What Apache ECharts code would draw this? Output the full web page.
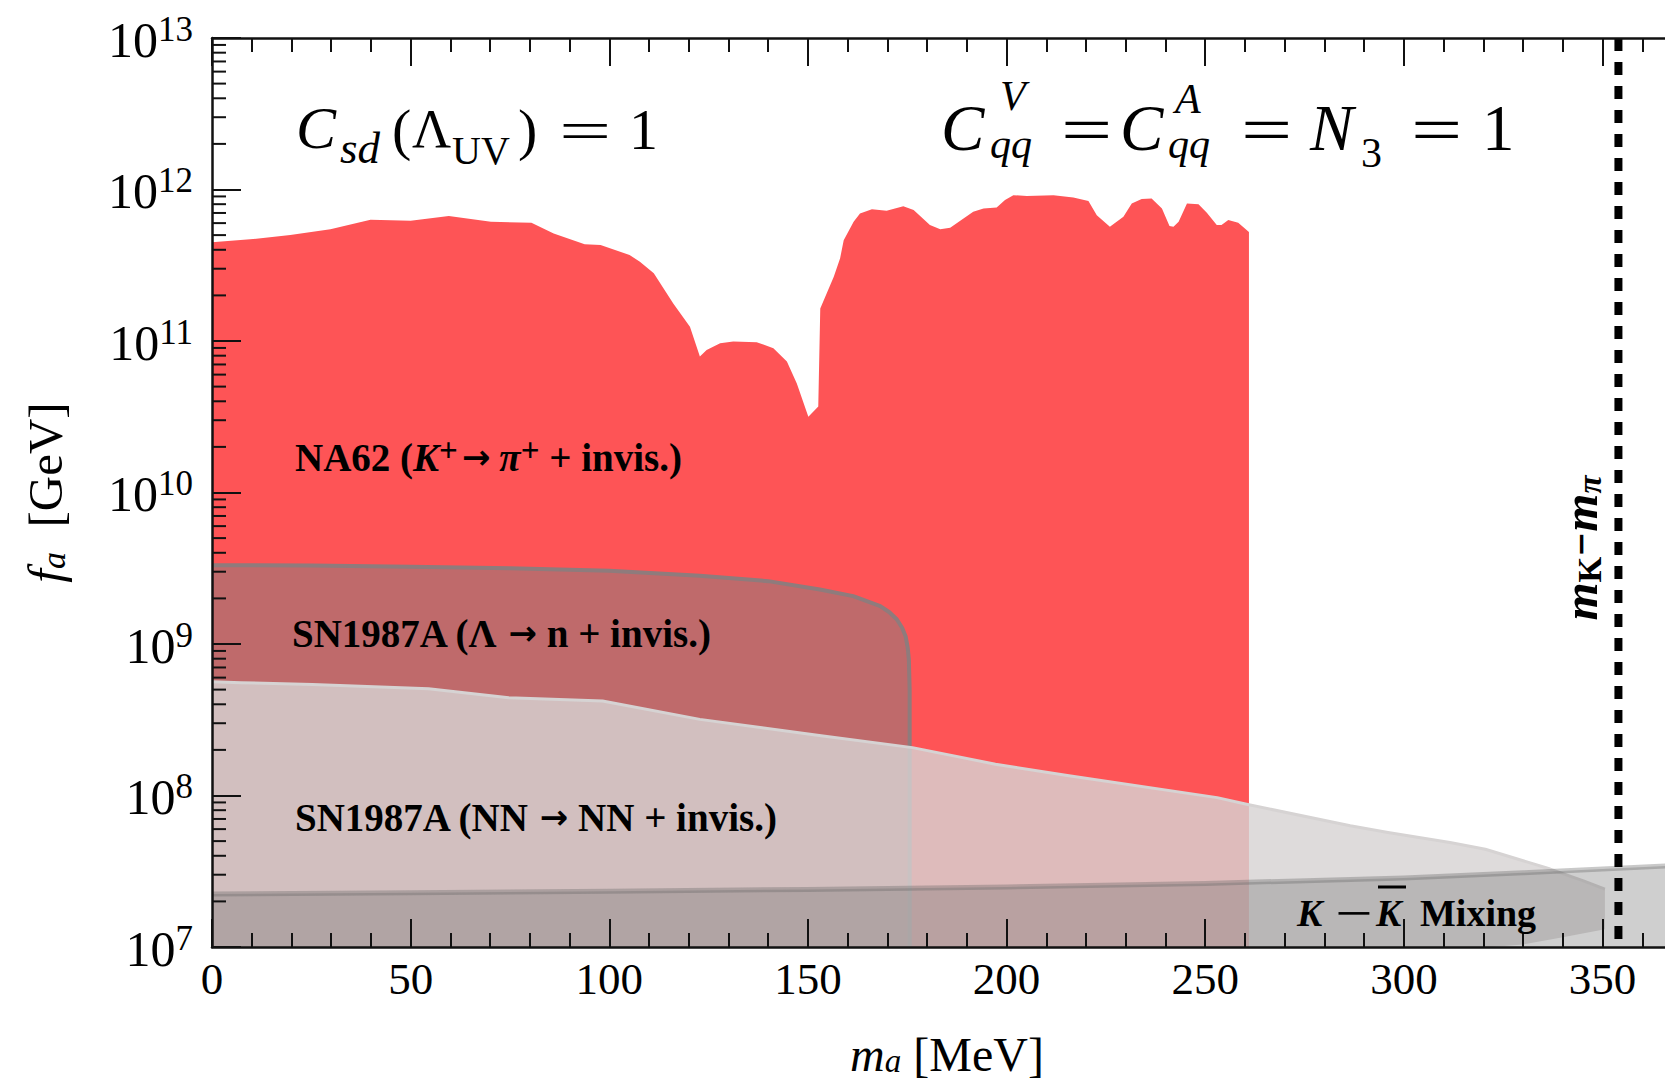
<!DOCTYPE html>
<html>
<head>
<meta charset="utf-8">
<script src="https://cdn.jsdelivr.net/npm/echarts@6/dist/echarts.min.js"></script>
<style>
  html, body { margin: 0; padding: 0; background: #fff; }
  #chart { width: 1665px; height: 1084px; }
</style>
</head>
<body>
<div id="chart"></div>
<script>
const FONT = '"Liberation Serif", "Times New Roman", Times, serif';
const ARROW_FONT = '"DejaVu Sans", sans-serif';

// axion mass m_a [MeV]
const xMin = 0, xMax = 370, xStep = 50;
// decay constant f_a [GeV], one tick label per decade
const yExponents = [7, 8, 9, 10, 11, 12, 13];

// NA62 (K+ -> pi+ + invisible): upper edge of the excluded region [m_a, f_a]
const na62Edge = [
  [0, 4.48e11], [9.6, 4.69e11], [19.7, 5.01e11], [29.8, 5.46e11], [39.9, 6.31e11],
  [50.0, 6.22e11], [59.6, 6.68e11], [70.2, 6.12e11], [80.4, 6.03e11], [86.0, 5.13e11],
  [93.8, 4.35e11], [97.8, 4.30e11], [105.1, 3.70e11], [107.7, 3.33e11], [111.2, 2.80e11],
  [116.1, 1.77e11], [120.3, 1.24e11], [122.8, 7.89e10], [124.5, 8.71e10], [127.9, 9.66e10],
  [131.2, 9.91e10], [137.1, 9.82e10], [141.3, 8.97e10], [144.7, 7.31e10], [147.2, 5.25e10],
  [150.1, 3.16e10], [152.6, 3.69e10], [153.1, 1.64e11], [156.5, 2.66e11], [158.1, 3.52e11],
  [159.0, 4.63e11], [161.5, 6.12e11], [163.1, 6.95e11], [166.1, 7.40e11], [169.8, 7.24e11],
  [174.0, 7.76e11], [176.6, 7.31e11], [180.7, 5.82e11], [183.3, 5.46e11], [185.8, 5.60e11],
  [191.6, 7.13e11], [194.2, 7.50e11], [197.5, 7.62e11], [199.6, 8.51e11], [201.7, 9.18e11],
  [205.1, 9.06e11], [211.8, 9.18e11], [216.8, 8.87e11], [220.6, 8.41e11], [222.7, 6.76e11],
  [226.0, 5.68e11], [229.4, 6.61e11], [231.5, 8.09e11], [234.0, 8.65e11], [236.5, 8.73e11],
  [239.1, 7.50e11], [241.0, 5.74e11], [242.0, 5.68e11], [243.3, 6.12e11], [245.4, 8.09e11],
  [248.3, 7.98e11], [250.4, 7.01e11], [252.9, 5.82e11], [254.1, 5.82e11], [255.8, 6.28e11],
  [258.3, 6.03e11], [261.0, 5.25e11]
];

// SN1987A (Lambda -> n + invisible): outline of the excluded region
const lambdaEdge = [
  [0, 3.31e9], [25, 3.30e9], [50, 3.24e9], [75, 3.16e9], [100, 3.05e9], [122.8, 2.82e9],
  [140, 2.60e9], [153, 2.29e9], [161.4, 2.07e9], [168.2, 1.78e9], [170.5, 1.62e9],
  [172.4, 1.45e9], [173.7, 1.28e9], [174.6, 1.12e9], [175.1, 9.5e8], [175.4, 7.9e8],
  [175.6, 5.0e8], [175.6, 1e7]
];

// SN1987A (NN -> NN + invisible): upper edge, then lower edge from right to left
const nnUpper = [
  [0, 5.64e8], [7.3, 5.55e8], [25.3, 5.41e8], [54.5, 5.07e8], [74.7, 4.42e8], [98.3, 4.20e8],
  [122.8, 3.18e8], [153.8, 2.47e8], [176.3, 2.07e8], [197.2, 1.61e8], [215.7, 1.35e8],
  [253, 9.68e7], [260.4, 8.75e7], [286.5, 6.31e7], [296, 5.69e7], [311.6, 4.90e7],
  [320.5, 4.42e7], [336.8, 3.27e7], [345.2, 2.73e7], [350.6, 2.41e7]
];
const nnLower = [[350.6, 1.31e7], [340, 1.16e7], [330, 1.04e7], [322, 1e7], [0, 1e7]];

// K - Kbar mixing: upper edge of the excluded band
const mixingUpper = [
  [0, 2.24e7], [50, 2.28e7], [100, 2.33e7], [150, 2.40e7], [175, 2.44e7], [200, 2.49e7],
  [250, 2.63e7], [300, 2.85e7], [330, 3.09e7], [370, 3.47e7]
];

// kinematic threshold m_K - m_pi [MeV]
const kpiThreshold = 354;

const yMin = Math.pow(10, yExponents[0]);
const yMax = Math.pow(10, yExponents[yExponents.length - 1]);

// log-axis minor ticks at 2..9 x 10^n
const yMinorTicks = [];
yExponents.slice(0, -1).forEach(e => {
  for (let k = 2; k <= 9; k++) yMinorTicks.push([xMin, k * Math.pow(10, e)]);
});

function regionSeries(name, outline, closing, fill, edgeColor, edgeWidth, edgePath) {
  return {
    type: 'custom', name, coordinateSystem: 'cartesian2d', silent: true, z: 2,
    data: [[outline[0][0], outline[0][1]]],
    renderItem(params, api) {
      const children = [{
        type: 'polygon',
        shape: { points: outline.concat(closing).map(p => api.coord(p)) },
        style: { fill }
      }];
      if (edgeColor) {
        children.push({
          type: 'polyline',
          shape: { points: edgePath.map(p => api.coord(p)) },
          style: { fill: null, stroke: edgeColor, lineWidth: edgeWidth, lineJoin: 'round' }
        });
      }
      return { type: 'group', children };
    }
  };
}

function tx(x, y, text, o = {}) {
  return {
    type: 'text', x, y, z: 50, silent: true,
    rotation: o.rotation || 0, scaleX: o.scaleX || 1,
    style: {
      text, fill: '#000', fontFamily: o.family || FONT,
      fontSize: o.size || 38, fontWeight: o.weight || 'normal', fontStyle: o.fstyle || 'normal',
      align: o.align || 'left', verticalAlign: 'middle', rich: o.rich
    }
  };
}

const boldRich = {
  b: { fontFamily: FONT, fontSize: 39, fontWeight: 'bold', lineHeight: 48 },
  bi: { fontFamily: FONT, fontSize: 39, fontWeight: 'bold', fontStyle: 'italic', lineHeight: 48 },
  ar: { fontFamily: ARROW_FONT, fontSize: 34, fontWeight: 'bold', lineHeight: 48, padding: [0, 9, 0, 4] },
  ar2: { fontFamily: ARROW_FONT, fontSize: 34, fontWeight: 'bold', lineHeight: 48 },
  sup: { fontFamily: FONT, fontSize: 33, fontWeight: 'bold', lineHeight: 27, verticalAlign: 'top' }
};

const axisColor = '#111';
const xAxisBase = {
  type: 'value', min: xMin, max: xMax, interval: xStep, z: 10,
  axisLine: { show: true, onZero: false, lineStyle: { color: axisColor, width: 2.5 } },
  axisTick: { show: true, inside: true, length: 28, lineStyle: { color: axisColor, width: 2 } },
  minorTick: { show: true, splitNumber: 5, length: 14, lineStyle: { color: axisColor, width: 2 } },
  splitLine: { show: false }, minorSplitLine: { show: false }
};

const option = {
  animation: false,
  backgroundColor: '#fff',
  grid: { left: 212, top: 38, right: -17, bottom: 137, containLabel: false, outerBoundsMode: 'none' },
  xAxis: [
    Object.assign({}, xAxisBase, {
      position: 'bottom',
      axisLabel: { show: true, margin: 9, fontFamily: FONT, fontSize: 45, color: '#000', showMaxLabel: false },
      name: '{i|m}{s|a}{r| [MeV]}', nameLocation: 'middle', nameGap: 84,
      nameTextStyle: {
        rich: {
          i: { fontFamily: FONT, fontSize: 48, fontStyle: 'italic', color: '#000', lineHeight: 46 },
          s: { fontFamily: FONT, fontSize: 33, fontStyle: 'italic', color: '#000', lineHeight: 22, verticalAlign: 'bottom' },
          r: { fontFamily: FONT, fontSize: 48, color: '#000', lineHeight: 46 }
        }
      }
    }),
    Object.assign({}, xAxisBase, { position: 'top', axisLabel: { show: false } })
  ],
  yAxis: {
    type: 'log', logBase: 10, min: yMin, max: yMax, interval: 1, z: 10,
    axisLine: { show: true, lineStyle: { color: axisColor, width: 2.5 } },
    axisTick: { show: true, inside: true, length: 29, lineStyle: { color: axisColor, width: 2 } },
    splitLine: { show: false },
    axisLabel: {
      margin: 19, padding: [3, 0, 0, 0],
      formatter: v => '{b|10}{s|' + Math.round(Math.log10(v)) + '}',
      rich: {
        b: { fontFamily: FONT, fontSize: 50, lineHeight: 56, color: '#000' },
        s: { fontFamily: FONT, fontSize: 35, lineHeight: 26, verticalAlign: 'top', color: '#000' }
      }
    },
    name: '{i|f}{s|a}{r|  [GeV]}', nameLocation: 'middle', nameRotate: 90, nameGap: 142,
    nameTextStyle: {
      rich: {
        i: { fontFamily: FONT, fontSize: 49, fontStyle: 'italic', color: '#000', lineHeight: 50 },
        s: { fontFamily: FONT, fontSize: 34, fontStyle: 'italic', color: '#000', lineHeight: 34, verticalAlign: 'bottom' },
        r: { fontFamily: FONT, fontSize: 49, color: '#000', lineHeight: 50 }
      }
    }
  },
  series: [
    regionSeries('NA62', na62Edge, [[261.0, yMin], [0, yMin]], '#fe5456', null),
    regionSeries('SN1987A Lambda', lambdaEdge, [[0, yMin]], 'rgba(128,128,128,0.5)', '#8f7b7c', 4, lambdaEdge),
    regionSeries('SN1987A NN', nnUpper, nnLower, 'rgba(214,211,211,0.81)', '#d6d3d3', 3, nnUpper),
    regionSeries('K-Kbar mixing', mixingUpper, [[370, yMin], [0, yMin]], 'rgba(110,110,110,0.33)', 'rgba(100,100,100,0.35)', 5, mixingUpper),
    {
      type: 'line', name: 'mK - mpi', silent: true, z: 5, symbol: 'none',
      data: [[kpiThreshold, yMax], [kpiThreshold, yMin]],
      lineStyle: { color: '#000', width: 8, type: [13, 11] }
    },
    {
      type: 'custom', name: 'minor ticks', coordinateSystem: 'cartesian2d', silent: true, z: 11,
      data: yMinorTicks,
      renderItem(params, api) {
        const p = api.coord([api.value(0), api.value(1)]);
        return { type: 'line', shape: { x1: p[0], y1: p[1], x2: p[0] + 14, y2: p[1] },
                 style: { stroke: axisColor, lineWidth: 2 } };
      }
    }
  ],
  graphic: [
    // C_sd(Λ_UV) = 1
    tx(296, 128, 'C', { size: 60, fstyle: 'italic' }),
    tx(340, 148, 'sd', { size: 45, fstyle: 'italic' }),
    tx(392, 129, '(', { size: 58 }),
    tx(412, 129, 'Λ', { size: 54 }),
    tx(452, 150, 'UV', { size: 40 }),
    tx(518, 129, ')', { size: 58 }),
    tx(559, 131, '=', { size: 58, scaleX: 1.6 }),
    tx(629, 129, '1', { size: 58 }),
    // C^V_qq = C^A_qq = N_3 = 1
    tx(941, 128, 'C', { size: 65, fstyle: 'italic' }),
    tx(1000, 96, 'V', { size: 42, fstyle: 'italic' }),
    tx(990, 144, 'qq', { size: 42, fstyle: 'italic' }),
    tx(1061, 130, '=', { size: 65, scaleX: 1.4 }),
    tx(1120, 128, 'C', { size: 65, fstyle: 'italic' }),
    tx(1175, 99, 'A', { size: 42, fstyle: 'italic' }),
    tx(1168, 144, 'qq', { size: 42, fstyle: 'italic' }),
    tx(1241, 130, '=', { size: 65, scaleX: 1.4 }),
    tx(1310, 128, 'N', { size: 65, fstyle: 'italic' }),
    tx(1361, 153, '3', { size: 42 }),
    tx(1411, 130, '=', { size: 65, scaleX: 1.4 }),
    tx(1482, 128, '1', { size: 65 }),
    // region labels
    tx(295, 457, '{b|NA62 (}{bi|K}{sup|+}{ar|→}{bi|π}{sup|+}{b| + invis.)}', { rich: boldRich }),
    tx(292, 633, '{b|SN1987A (Λ }{ar2|→}{b| n + invis.)}', { rich: boldRich }),
    tx(295, 817, '{b|SN1987A (NN }{ar2|→}{b| NN + invis.)}', { rich: boldRich }),
    tx(1297, 913, 'K', { weight: 'bold', fstyle: 'italic' }),
    tx(1335, 913, '−', { weight: 'bold', scaleX: 1.75 }),
    tx(1376, 913, 'K', { weight: 'bold', fstyle: 'italic' }),
    { type: 'line', z: 50, silent: true, shape: { x1: 1378, y1: 887, x2: 1406, y2: 887 }, style: { stroke: '#000', lineWidth: 3 } },
    tx(1420, 913, 'Mixing', { weight: 'bold' }),
    // threshold label, reading upwards
    tx(1580, 548, '{m|m}{k|K}{r|−}{m|m}{p|π}', {
      rotation: Math.PI / 2, align: 'center',
      rich: {
        m: { fontFamily: FONT, fontSize: 49, fontStyle: 'italic', fontWeight: 'bold', lineHeight: 52 },
        k: { fontFamily: FONT, fontSize: 33, fontWeight: 'bold', lineHeight: 34, verticalAlign: 'bottom' },
        r: { fontFamily: '"DejaVu Serif", serif', fontSize: 30, fontWeight: 'bold', lineHeight: 52 },
        p: { fontFamily: FONT, fontSize: 33, fontStyle: 'italic', fontWeight: 'bold', lineHeight: 34, verticalAlign: 'bottom' }
      }
    })
  ]
};

const chart = echarts.init(document.getElementById('chart'), null, { renderer: 'svg' });
chart.setOption(option);
</script>
</body>
</html>
